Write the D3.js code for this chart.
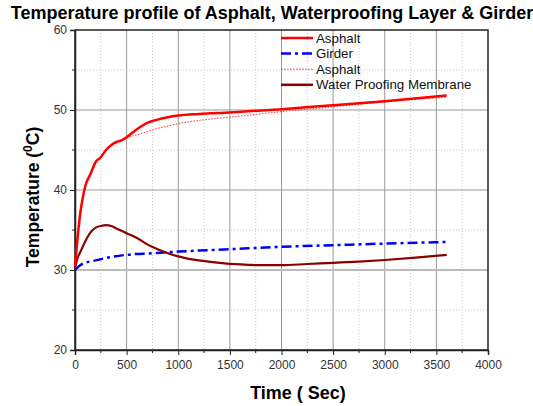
<!DOCTYPE html>
<html>
<head>
<meta charset="utf-8">
<script src="https://cdn.jsdelivr.net/npm/d3@7"></script>
<style>
body { margin: 0; background: #fff; }
text { font-family: "Liberation Sans", Arial, sans-serif; }
</style>
</head>
<body>
<div id="chart"></div>
<script>
// series data (time in sec, temperature in degC)
var asphaltTime = [0, 25, 50, 75, 100, 150, 200, 250, 300, 350, 400, 450, 500, 600, 700, 800, 900, 1000, 1200, 1500, 2000, 2500, 3000, 3600];
var asphaltTemp = [30.5, 34, 37, 39, 40.5, 42, 43.5, 44.1, 45, 45.6, 46, 46.2, 46.6, 47.6, 48.4, 48.8, 49.1, 49.3, 49.5, 49.7, 50.1, 50.6, 51.1, 51.8];

var asphalt2Time = [0, 25, 50, 75, 100, 150, 200, 250, 300, 350, 400, 450, 500, 600, 700, 800, 900, 1000, 1200, 1500, 2000, 2500, 3000, 3600];
var asphalt2Temp = [30.5, 34, 37, 39, 40.5, 42, 43.5, 44.1, 45, 45.6, 46, 46.2, 46.5, 46.9, 47.3, 47.7, 48.0, 48.3, 48.7, 49.1, 49.8, 50.4, 51.0, 51.6];

var girderTime = [0, 50, 100, 200, 300, 500, 750, 1000, 1500, 2000, 2500, 3000, 3600];
var girderTemp = [30, 30.6, 30.9, 31.2, 31.5, 31.9, 32.1, 32.3, 32.6, 32.9, 33.1, 33.3, 33.5];

var wpmTime = [0, 25, 50, 100, 150, 200, 250, 300, 350, 400, 500, 600, 700, 800, 900, 1000, 1100, 1200, 1400, 1600, 1800, 2000, 2250, 2500, 2750, 3000, 3300, 3600];
var wpmTemp = [30.2, 31.5, 32.2, 33.6, 34.7, 35.3, 35.5, 35.6, 35.5, 35.2, 34.6, 34.0, 33.2, 32.6, 32.1, 31.7, 31.4, 31.2, 30.9, 30.7, 30.6, 30.6, 30.75, 30.9, 31.05, 31.25, 31.55, 31.9];

var xTicks = [0, 500, 1000, 1500, 2000, 2500, 3000, 3500, 4000];
var yTicks = [20, 30, 40, 50, 60];
var legendNames = ["Asphalt", "Girder", "Asphalt", "Water Proofing Membrane"];

var margin = {top: 30, right: 45, bottom: 56, left: 75};
var width = 533 - margin.left - margin.right,
    height = 406 - margin.top - margin.bottom;

var svg = d3.select("#chart").append("svg")
    .attr("width", 533)
    .attr("height", 406);

var g = svg.append("g")
    .attr("transform", "translate(" + margin.left + "," + margin.top + ")");

var x = d3.scaleLinear().domain([0, 4000]).range([0, width]);
var y = d3.scaleLinear().domain([20, 60]).range([height, 0]);

// minor grid (dotted)
var xMinor = d3.range(250, 4000, 500);
var yMinor = d3.range(25, 60, 10);
g.selectAll("line.xminor").data(xMinor).enter().append("line")
    .attr("x1", function(d) { return x(d); }).attr("x2", function(d) { return x(d); })
    .attr("y1", 0).attr("y2", height)
    .attr("stroke", "#c8c8c8").attr("stroke-dasharray", "1,2");
g.selectAll("line.yminor").data(yMinor).enter().append("line")
    .attr("y1", function(d) { return y(d); }).attr("y2", function(d) { return y(d); })
    .attr("x1", 0).attr("x2", width)
    .attr("stroke", "#c8c8c8").attr("stroke-dasharray", "1,2");

// major grid
g.selectAll("line.xmajor").data(xTicks.slice(1, -1)).enter().append("line")
    .attr("x1", function(d) { return x(d); }).attr("x2", function(d) { return x(d); })
    .attr("y1", 0).attr("y2", height)
    .attr("stroke", "#999").attr("stroke-width", 1);
g.selectAll("line.ymajor").data(yTicks.slice(1, -1)).enter().append("line")
    .attr("y1", function(d) { return y(d); }).attr("y2", function(d) { return y(d); })
    .attr("x1", 0).attr("x2", width)
    .attr("stroke", function(d) { return d == 30 ? "#bbb" : "#999"; })
    .attr("stroke-width", function(d) { return d == 30 ? 2 : 1; });

// frame
g.append("rect")
    .attr("width", width).attr("height", height)
    .attr("fill", "none").attr("stroke", "#222").attr("stroke-width", 1.5);

// axes
var xAxis = d3.axisBottom(x).tickValues(xTicks).tickSize(5).tickFormat(d3.format("d"));
var yAxis = d3.axisLeft(y).tickValues(yTicks).tickSize(5).tickFormat(d3.format("d"));

var gx = g.append("g").attr("transform", "translate(0," + height + ")").call(xAxis);
var gy = g.append("g").call(yAxis);
[gx, gy].forEach(function(a) {
    a.select(".domain").attr("stroke", "#222").attr("stroke-width", 1.5);
    a.selectAll(".tick line").attr("stroke", "#222");
    a.selectAll(".tick text").attr("font-size", 12).attr("fill", "#333")
        .style("font-family", "'Liberation Sans', Arial, sans-serif");
});
gx.selectAll(".tick text").attr("dy", "0.9em");

// minor ticks
g.selectAll("line.xmt").data(xMinor).enter().append("line")
    .attr("x1", function(d) { return x(d); }).attr("x2", function(d) { return x(d); })
    .attr("y1", height).attr("y2", height + 3).attr("stroke", "#222");
g.selectAll("line.ymt").data(yMinor).enter().append("line")
    .attr("y1", function(d) { return y(d); }).attr("y2", function(d) { return y(d); })
    .attr("x1", 0).attr("x2", -3).attr("stroke", "#222");

// lines
var line = d3.line()
    .x(function(d) { return x(d[0]); })
    .y(function(d) { return y(d[1]); })
    .curve(d3.curveMonotoneX);

function pairs(t, v) { return t.map(function(d, i) { return [d, v[i]]; }); }

var series = [
    {data: pairs(asphalt2Time, asphalt2Temp), color: "#ff3030", width: 1, dash: "1.5,1.5"},
    {data: pairs(girderTime, girderTemp), color: "#0000ff", width: 2.5, dash: "10,4,3,4"},
    {data: pairs(wpmTime, wpmTemp), color: "#8b0000", width: 2.2, dash: null},
    {data: pairs(asphaltTime, asphaltTemp), color: "#ff0000", width: 2.5, dash: null}
];

g.selectAll("path.series").data(series).enter().append("path")
    .attr("class", "series")
    .attr("d", function(d) { return line(d.data); })
    .attr("fill", "none")
    .attr("stroke", function(d) { return d.color; })
    .attr("stroke-width", function(d) { return d.width; })
    .attr("stroke-dasharray", function(d) { return d.dash; });

// legend
var legendStyle = [
    {color: "#ff0000", width: 2.5, dash: null},
    {color: "#0000ff", width: 2.5, dash: "10,4,3,4"},
    {color: "#ff3030", width: 1, dash: "1.5,1.5"},
    {color: "#8b0000", width: 2.5, dash: null}
];
var legend = svg.append("g").attr("transform", "translate(281,38)");
var items = legend.selectAll("g").data(legendNames).enter().append("g")
    .attr("transform", function(d, i) { return "translate(0," + (i * 15.6) + ")"; });
items.append("line")
    .attr("x1", 0).attr("x2", 32).attr("y1", 0).attr("y2", 0)
    .attr("stroke", function(d, i) { return legendStyle[i].color; })
    .attr("stroke-width", function(d, i) { return legendStyle[i].width; })
    .attr("stroke-dasharray", function(d, i) { return legendStyle[i].dash; });
items.append("text")
    .attr("x", 35).attr("y", 0).attr("dy", "0.35em")
    .attr("font-size", 13.3).attr("fill", "#111")
    .text(function(d) { return d; });

// title
svg.append("text")
    .attr("x", 272).attr("y", 19)
    .attr("text-anchor", "middle")
    .attr("font-size", 18).attr("font-weight", "bold")
    .text("Temperature profile of Asphalt, Waterproofing Layer & Girder");

// x label
svg.append("text")
    .attr("x", 298).attr("y", 399)
    .attr("text-anchor", "middle")
    .attr("font-size", 18).attr("font-weight", "bold")
    .text("Time ( Sec)");

// y label
var yl = svg.append("text")
    .attr("transform", "translate(39,197) rotate(-90)")
    .attr("text-anchor", "middle")
    .attr("font-size", 17.5).attr("font-weight", "bold");
yl.append("tspan").text("Temperature (");
yl.append("tspan").attr("baseline-shift", "super").attr("font-size", 12).text("0");
yl.append("tspan").text("C)");
</script>
</body>
</html>
